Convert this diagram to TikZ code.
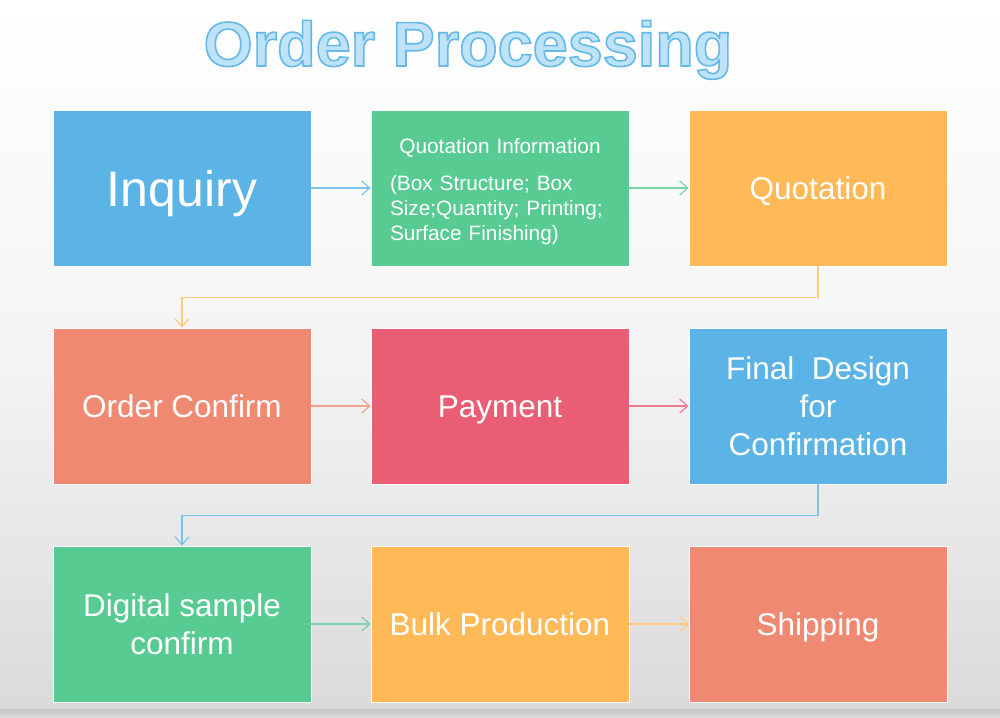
\documentclass[tikz,border=0pt]{standalone}
\usepackage{fontspec}
\setmainfont{Liberation Sans}
\usepackage{xcolor}
\usetikzlibrary{arrows.meta,positioning}

\definecolor{boxblue}{RGB}{91,180,229}
\definecolor{boxgreen}{RGB}{88,203,147}
\definecolor{boxorange}{RGB}{255,185,87}
\definecolor{boxsalmon}{RGB}{240,137,114}
\definecolor{boxred}{RGB}{233,94,116}
\definecolor{titlefill}{RGB}{190,226,248}
\definecolor{bgmid}{RGB}{244,244,244}
\definecolor{bgbot}{RGB}{218,218,218}

% outlined title text (fill + stroke)
\newcommand{\outlinetext}[1]{\special{pdf:literal direct 2 Tr 1.6 w 0.392 0.725 0.910 RG}#1\special{pdf:literal direct 0 Tr}}

\begin{document}
\begin{tikzpicture}[x=1pt,y=-1pt,>={Straight Barb[length=8pt,width=14pt]},
  stage/.style={draw=white,line width=0.8pt,minimum width=258pt,minimum height=156pt,
    inner sep=0pt,text=white,font=\fontsize{31.5}{38}\selectfont,align=center},
  oneline/.style={text height=27pt,text depth=4.5pt},
  link/.style={->,line width=1.2pt}]

  % Background
  \useasboundingbox (0,0) rectangle (1000,717);
  \shade[top color=white,bottom color=bgmid] (0,0) rectangle (1000,360);
  \shade[top color=bgmid,bottom color=bgbot] (0,360) rectangle (1000,710);
  \shade[top color=gray!45,bottom color=gray!28] (0,709) rectangle (1000,717);

  % Node: title
  \node[anchor=base,text=titlefill,font=\bfseries\fontsize{63}{63}\selectfont] (title) at (468,66)
    {\outlinetext{Order Processing}};

  % Node: inq
  \node[stage,fill=boxblue,font=\fontsize{50}{50}\selectfont,text height=40pt,text depth=4pt] (inq) at (182,188) {Inquiry};
  % Node: qinfo
  \node[stage,fill=boxgreen,font=\fontsize{20.8}{25}\selectfont,text width=220pt,align=left] (qinfo) at (500,188)
    {{\centering\rule{0pt}{22pt}Quotation Information\par}\vspace{12pt}(Box Structure; Box\\Size;Quantity; Printing;\\Surface Finishing)};
  % Node: quot
  \node[stage,oneline,fill=boxorange] (quot) at (818,188) {Quotation};
  % Node: oconf
  \node[stage,oneline,fill=boxsalmon] (oconf) at (182,406) {Order Confirm};
  % Node: pay
  \node[stage,oneline,fill=boxred] (pay) at (500,406) {Payment};
  % Node: fdes
  \node[stage,fill=boxblue] (fdes) at (818,406) {Final\ \ Design\\for\\Confirmation};
  % Node: dsamp
  \node[stage,fill=boxgreen] (dsamp) at (182,624) {Digital sample\\confirm};
  % Node: bulk
  \node[stage,oneline,fill=boxorange] (bulk) at (500,624) {Bulk Production};
  % Node: ship
  \node[stage,oneline,fill=boxsalmon] (ship) at (818,624) {Shipping};

  % Edge: inq -> qinfo
  \draw[link,draw=boxblue!80] (inq) -- (qinfo);
  % Edge: qinfo -> quot
  \draw[link,draw=boxgreen!80] (qinfo) -- (quot);
  % Edge: quot -> oconf
  \draw[link,draw=boxorange!75] (quot.south) -- ++(0,31) -| (oconf.north);
  % Edge: oconf -> pay
  \draw[link,draw=boxsalmon!80] (oconf) -- (pay);
  % Edge: pay -> fdes
  \draw[link,draw=boxred!80] (pay) -- (fdes);
  % Edge: fdes -> dsamp
  \draw[link,draw=boxblue!80] (fdes.south) -- ++(0,31) -| (dsamp.north);
  % Edge: dsamp -> bulk
  \draw[link,draw=boxgreen!80] (dsamp) -- (bulk);
  % Edge: bulk -> ship
  \draw[link,draw=boxorange!75] (bulk) -- (ship);
\end{tikzpicture}
\end{document}
